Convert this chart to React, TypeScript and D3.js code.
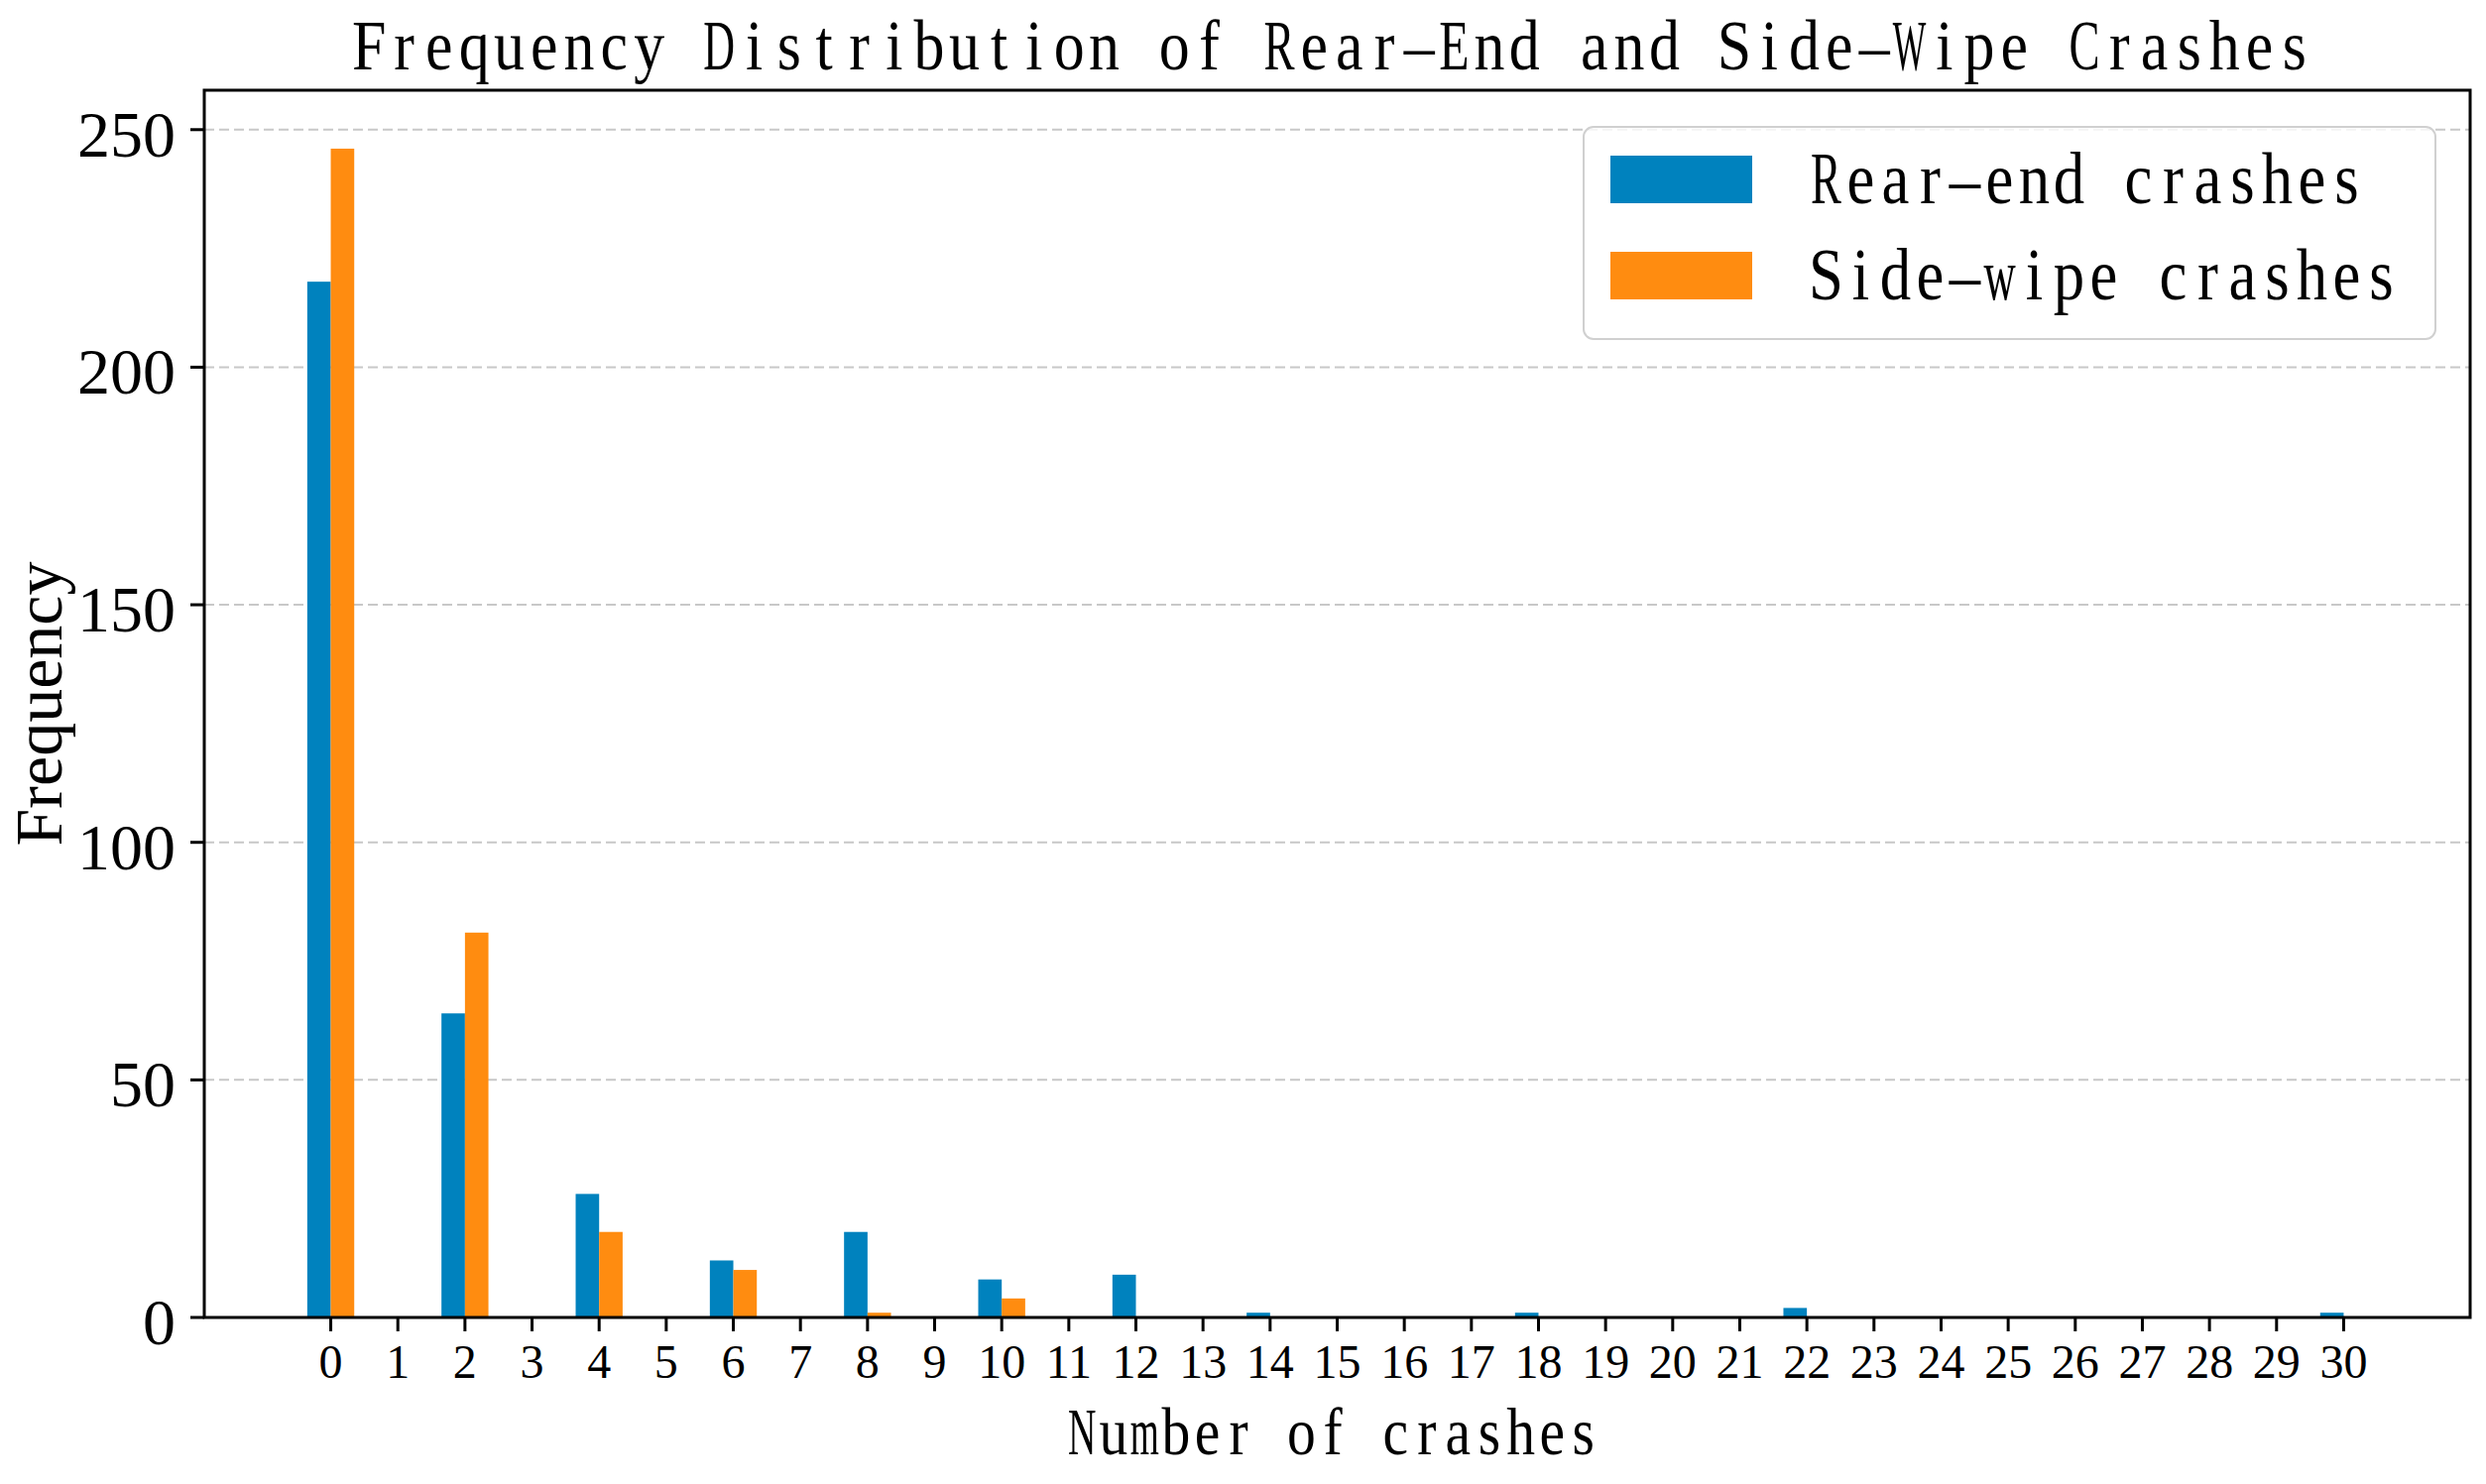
import * as d3 from 'd3'
import React from 'react'

// counts per number of crashes
const crashCounts = [0, 1, 2, 3, 4, 5, 6, 7, 8, 9, 10, 11, 12, 13, 14, 15, 16, 17, 18, 19, 20, 21, 22, 23, 24, 25, 26, 27, 28, 29, 30]
const rearEnd = [218, 0, 64, 0, 26, 0, 12, 0, 18, 0, 8, 0, 9, 0, 1, 0, 0, 0, 1, 0, 0, 0, 2, 0, 0, 0, 0, 0, 0, 0, 1]
const sideWipe = [246, 0, 81, 0, 18, 0, 10, 0, 1, 0, 4, 0, 0, 0, 0, 0, 0, 0, 0, 0, 0, 0, 0, 0, 0, 0, 0, 0, 0, 0, 0]
const yTicks = [0, 50, 100, 150, 200, 250]
const seriesNames = ['Rear-end crashes', 'Side-wipe crashes']

const W = 2507
const H = 1497
const m = { left: 206, right: 2491, top: 91, bottom: 1329 }
const blue = '#0082BE'
const orange = '#FF8C10'
const barW = 0.35
const serif = '"Liberation Serif", "Times New Roman", serif'

// glyphs too wide for a half-width cell get squeezed
const wide: Record<string, number> = { m: 0.92, w: 0.92, M: 0.95, W: 0.95, D: 0.9, N: 0.9, C: 0.88, R: 0.88, E: 0.86 }

// fixed-pitch serif text (the original used a SimSun-like font)
const MonoText = ({ text, x, y, cell, size, anchor = 'start', sx = 0.86 }:
  { text: string, x: number, y: number, cell: number, size: number, anchor?: string, sx?: number }) => {
  const chars = text.split('')
  const start = anchor === 'middle' ? x - chars.length * cell / 2 : x
  return (
    <text transform={`scale(${sx},1)`} fontFamily={serif} fontSize={size} textAnchor="middle"
      fill="#000" style={{ whiteSpace: 'pre' }}>
      {chars.map((c, i) => (
        <tspan key={i} x={(start + (i + 0.5) * cell) / sx} y={y}
          {...(wide[c] ? { textLength: cell * wide[c] / sx, lengthAdjust: 'spacingAndGlyphs' } : {})}>
          {c === '-' ? '\u2013' : c}
        </tspan>
      ))}
    </text>
  )
}

const App = () => {
  const lo = -barW, hi = 30 + barW
  const pad = (hi - lo) * 0.05
  const x = d3.scaleLinear().domain([lo - pad, hi + pad]).range([m.left, m.right])
  const yMax = (d3.max([...rearEnd, ...sideWipe]) as number) * 1.05
  const y = d3.scaleLinear().domain([0, yMax]).range([m.bottom, m.top])
  const bw = x(barW) - x(0)

  const series = [
    { vals: rearEnd, color: blue, off: -barW },
    { vals: sideWipe, color: orange, off: 0 },
  ]

  return (
    <svg width={W} height={H} style={{ position: 'absolute', left: 0, top: 0, background: '#fff' }}>
      <rect width={W} height={H} fill="#fff" />
      {/* grid */}
      {yTicks.map(t => (
        <line key={'g' + t} x1={m.left} x2={m.right} y1={y(t)} y2={y(t)}
          stroke="#c8c8c8" strokeWidth={2} strokeDasharray="10 5" />
      ))}
      {/* bars */}
      {series.map((s, si) => (
        <g key={si}>
          {s.vals.map((v, i) => v > 0 ? (
            <rect key={i} x={x(crashCounts[i] + s.off)} width={bw}
              y={y(v)} height={y(0) - y(v)} fill={s.color} />
          ) : null)}
        </g>
      ))}
      {/* spines */}
      <rect x={m.left} y={m.top} width={m.right - m.left} height={m.bottom - m.top}
        fill="none" stroke="#000" strokeWidth={3} />
      {/* y ticks */}
      {yTicks.map(t => (
        <g key={'y' + t}>
          <line x1={m.left - 14} x2={m.left} y1={y(t)} y2={y(t)} stroke="#000" strokeWidth={3} />
          <text x={177} y={y(t) + 27} textAnchor="end" fontFamily={serif} fontSize={66} fill="#000">{t}</text>
        </g>
      ))}
      {/* x ticks */}
      {crashCounts.map(c => (
        <g key={'x' + c}>
          <line x1={x(c)} x2={x(c)} y1={m.bottom} y2={m.bottom + 14} stroke="#000" strokeWidth={3} />
          <text x={x(c)} y={1390} textAnchor="middle" fontFamily={serif} fontSize={48} fill="#000">{c}</text>
        </g>
      ))}
      {/* labels */}
      <MonoText text="Frequency Distribution of Rear-End and Side-Wipe Crashes" x={1343} y={70}
        cell={35.3} size={72} anchor="middle" />
      <MonoText text="Number of crashes" x={1344} y={1467} cell={31.6} size={67} anchor="middle" />
      <text transform={`translate(62 ${(m.top + m.bottom) / 2}) rotate(-90)`} textAnchor="middle"
        fontFamily={serif} fontSize={68} fill="#000">Frequency</text>
      {/* legend */}
      <rect x={1597} y={128} width={859} height={214} rx={10} fill="#fff" fillOpacity={0.8}
        stroke="#d0d0d0" strokeWidth={2} />
      {seriesNames.map((n, i) => (
        <g key={n}>
          <rect x={1624} y={157 + i * 97} width={143} height={48} fill={i === 0 ? blue : orange} />
          <MonoText text={n} x={1824} y={205 + i * 97} cell={35} size={73} />
        </g>
      ))}
    </svg>
  )
}

export default App
